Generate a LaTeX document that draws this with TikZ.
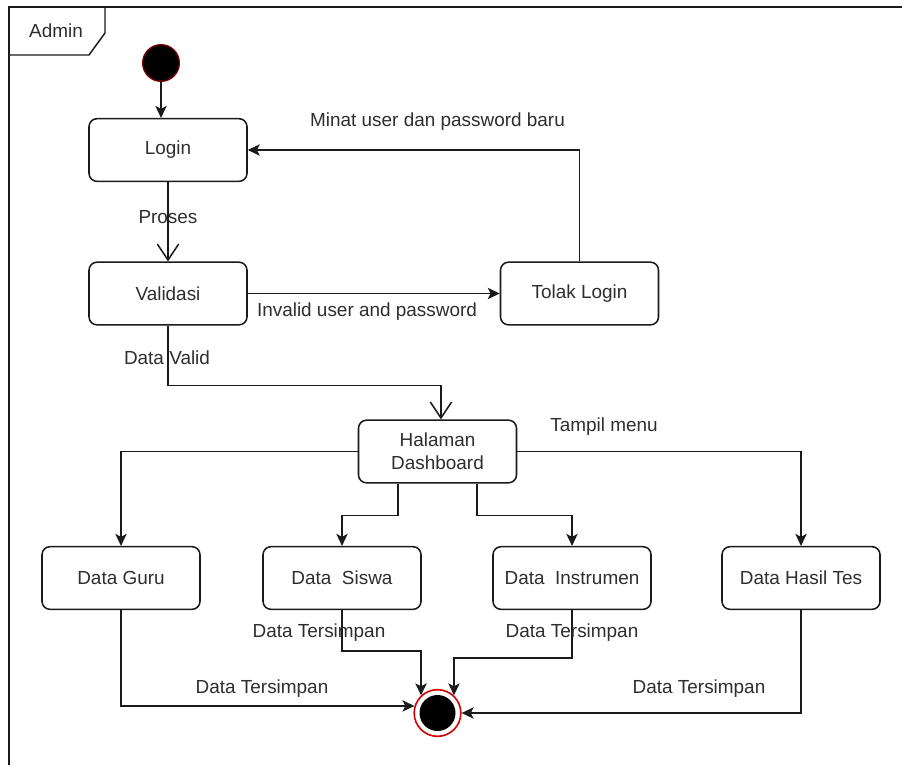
\documentclass[tikz,border=0pt]{standalone}
\usepackage{fontspec}
\setmainfont{Liberation Sans}
\usetikzlibrary{arrows.meta}
\definecolor{ink}{HTML}{1A1A1A}
\definecolor{txt}{HTML}{2E2E2E}
\definecolor{startred}{HTML}{7A0000}
\definecolor{endred}{HTML}{D40000}

\begin{document}
\begin{tikzpicture}[x=0.75pt,y=-0.75pt,
  every node/.style={font=\fontsize{14.2}{17.5}\selectfont, text=txt},
  state/.style={draw=ink, line width=1.15pt, rounded corners=6pt,
    minimum width=118.5pt, minimum height=47pt, align=center, inner sep=0pt},
  flow/.style={draw=ink, line width=1.15pt,
    -{Stealth[length=9pt,width=8.5pt,inset=2.2pt]}},
  openflow/.style={draw=ink, line width=1.15pt,
    -{Straight Barb[length=12pt,width=16pt]}},
  lbl/.style={inner sep=0pt},
]
\useasboundingbox (0,0) rectangle (902,765);
\fill[white] (0,0) rectangle (902,765);

% swimlane frame with its name tab
\draw[ink, line width=1.3pt] (902,7) -- (9,7) -- (9,765);
\draw[ink, line width=1.1pt] (9,55) -- (89,55) -- (105,33) -- (105,7);
\node[lbl] (lane) at (56,31) {Admin};

% initial state
\node[circle, fill=black, draw=startred, line width=1pt, minimum size=27.5pt,
  inner sep=0pt] (start) at (161,63) {};

% activities
\node[state] (login) at (168,150) {Login};
\node[state] (val) at (168,293.5) {Validasi};
\node[state] (tolak) at (579.5,293.5) {Tolak Login};
\node[state] (dash) at (437.5,451.5) {Halaman\\Dashboard};
\node[state] (guru) at (121,578) {Data Guru};
\node[state] (siswa) at (342,578) {Data\ \ Siswa};
\node[state] (instr) at (572,578) {Data\ \ Instrumen};
\node[state] (hasil) at (801,578) {Data Hasil Tes};

% final state
\node[circle, draw=endred, line width=1.2pt, fill=white, minimum size=35pt,
  inner sep=0pt] (final) at (437.5,713) {};
\fill[black] (final.center) circle (13.5pt);

% transitions
\draw[flow] (start.south) -- (start.south |- login.north);
\draw[openflow] (login.south) -- (val.north);
\draw[flow] (val.east) -- (tolak.west);
\draw[flow] (tolak.north) |- (login.east);
\draw[openflow] (val.south) -- ++(0,60) -| ([xshift=2.6pt]dash.north);
\draw[flow] (dash.west) -| (guru.north);
\draw[flow] ([xshift=-29.6pt]dash.south) -- ++(0,32) -| (siswa.north);
\draw[flow] ([xshift=29.6pt]dash.south) -- ++(0,32) -| (instr.north);
\draw[flow] (dash.east) -| (hasil.north);
\draw[flow] (guru.south) |- (final.163);
\draw[flow] (siswa.south) -- ++(0,41) -| (final.133);
\draw[flow] (instr.south) -- ++(0,48) -| (final.47);
\draw[flow] (hasil.south) |- (final.east);

% transition labels
\node[lbl] (lproses) at (168,217) {Proses};
\node[lbl] (linvalid) at (367,312) {Invalid user and password};
\node[lbl] (lminat) at (437.5,122) {Minat user dan password baru};
\node[lbl] (lvalid) at (167,358) {Data Valid};
\node[lbl] (lmenu) at (604,427) {Tampil menu};
\node[lbl] (lsiswa) at (319,633) {Data Tersimpan};
\node[lbl] (linstr) at (572,633) {Data Tersimpan};
\node[lbl] (lguru) at (262,689) {Data Tersimpan};
\node[lbl] (lhasil) at (699,689) {Data Tersimpan};
\end{tikzpicture}
\end{document}
